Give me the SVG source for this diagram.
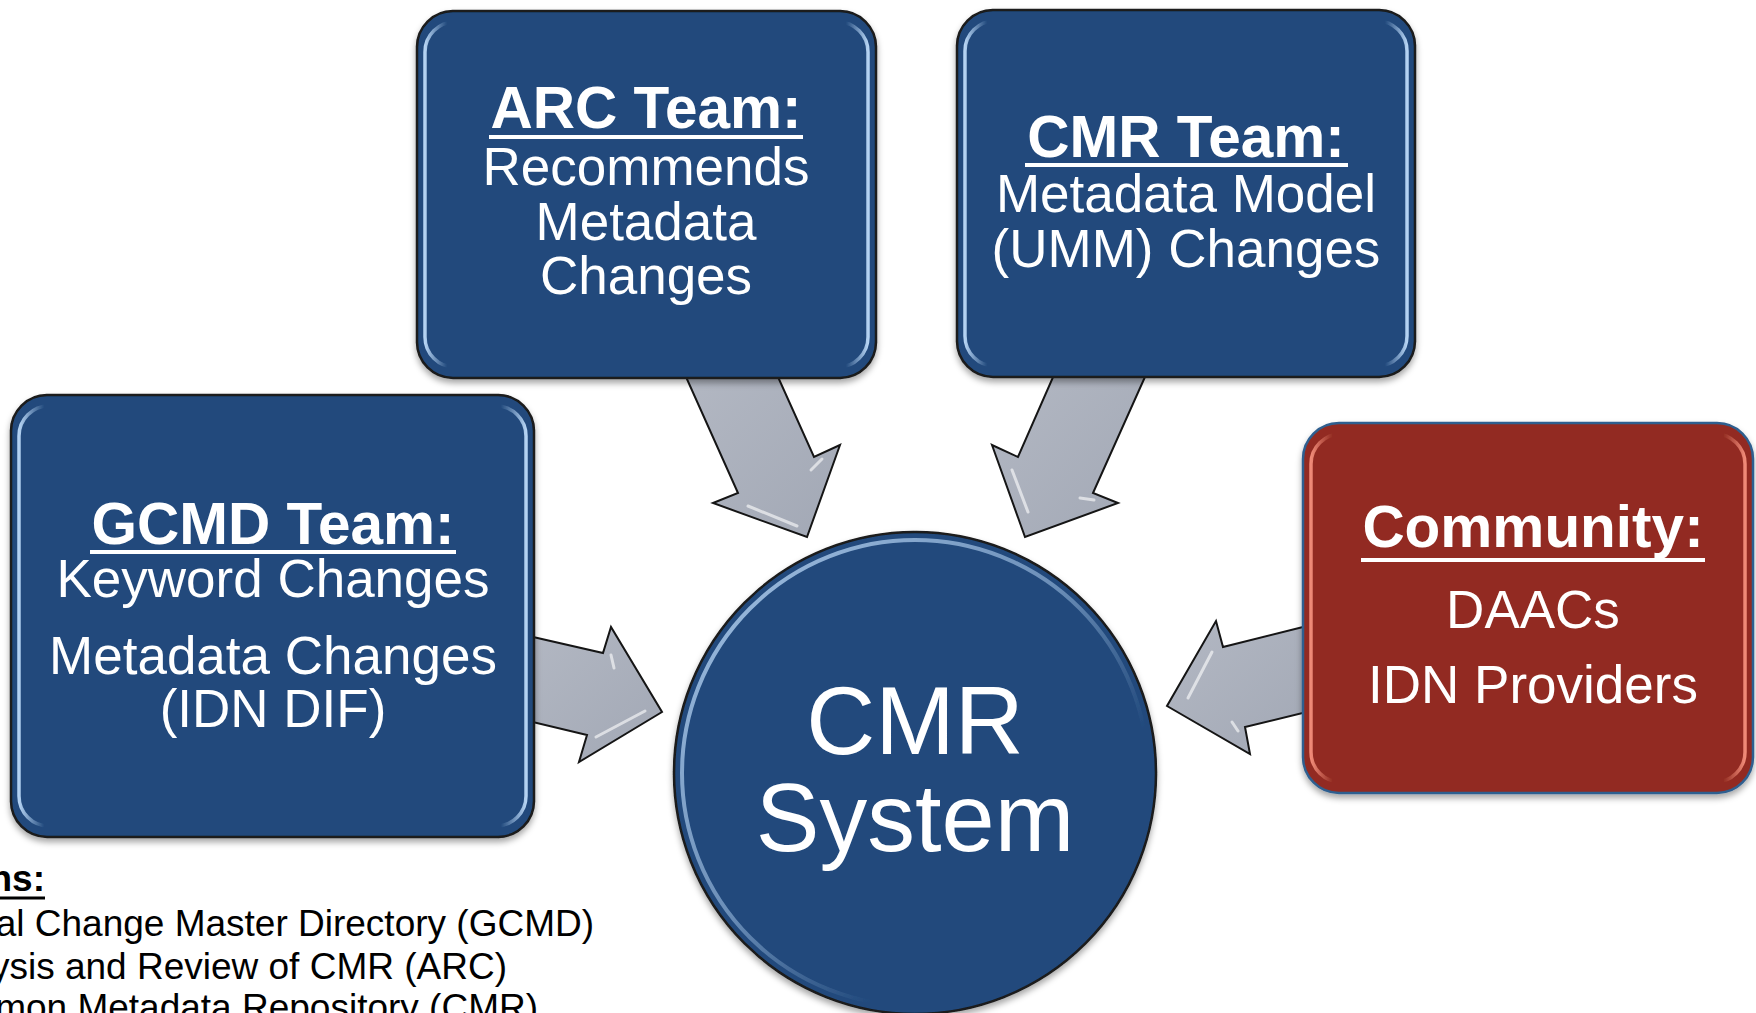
<svg xmlns="http://www.w3.org/2000/svg" width="1756" height="1013" viewBox="0 0 1756 1013">
<defs>
<filter id="shadow" x="-10%" y="-10%" width="120%" height="125%">
<feDropShadow dx="0" dy="4" stdDeviation="3" flood-color="#000" flood-opacity="0.35"/>
</filter>
<linearGradient id="hlBlue" x1="0" y1="0" x2="1" y2="0">
<stop offset="0" stop-color="#B5D3F3" stop-opacity="1"/>
<stop offset="0.05" stop-color="#B5D3F3" stop-opacity="0"/>
<stop offset="0.95" stop-color="#B5D3F3" stop-opacity="0"/>
<stop offset="1" stop-color="#B5D3F3" stop-opacity="1"/>
</linearGradient>
<linearGradient id="hlRed" x1="0" y1="0" x2="1" y2="0">
<stop offset="0" stop-color="#F08A78" stop-opacity="1"/>
<stop offset="0.05" stop-color="#F08A78" stop-opacity="0"/>
<stop offset="0.95" stop-color="#F08A78" stop-opacity="0"/>
<stop offset="1" stop-color="#F08A78" stop-opacity="1"/>
</linearGradient>
<linearGradient id="hlCircle" x1="0" y1="0" x2="1" y2="1">
<stop offset="0" stop-color="#B5D3F3" stop-opacity="0.9"/>
<stop offset="0.45" stop-color="#B5D3F3" stop-opacity="0.5"/>
<stop offset="0.7" stop-color="#B5D3F3" stop-opacity="0"/>
</linearGradient>
<linearGradient id="arrowFill" x1="0" y1="0" x2="1" y2="1">
<stop offset="0" stop-color="#B3B8C3"/>
<stop offset="1" stop-color="#A2A8B5"/>
</linearGradient>
<style>
.box{fill:#21497C;stroke:#1A1A1A;stroke-width:2.5}
.boxRed{fill:#922B21;stroke:#2F5E8F;stroke-width:2.5}
.hl{fill:none;stroke:url(#hlBlue);stroke-width:3.5}
.hlr{fill:none;stroke:url(#hlRed);stroke-width:3.5}
.arrow{fill:url(#arrowFill);stroke:#151515;stroke-width:2;stroke-linejoin:miter}
.shine{fill:none;stroke:#FFFFFF;stroke-width:3;stroke-linecap:round;opacity:0.6}
.title{font-family:"Liberation Sans",Arial,sans-serif;font-weight:bold;font-size:58.5px;fill:#FFFFFF;text-anchor:middle}
.body{font-family:"Liberation Sans",Arial,sans-serif;font-size:53px;fill:#FFFFFF;text-anchor:middle}
.big{font-family:"Liberation Sans",Arial,sans-serif;font-size:95.5px;fill:#FFFFFF;text-anchor:middle}
.ul{stroke:#FFFFFF;stroke-width:4}
.legend{font-family:"Liberation Sans",Arial,sans-serif;font-size:37px;fill:#000000;text-anchor:end}
</style>
</defs>
<rect width="1756" height="1013" fill="#FFFFFF"/>

<g id="connectors">
<g id="arrow-arc">
<polygon class="arrow" points="682,368 774,368 814,457 840,445 807,537 713,503 738,493"/>
<path class="shine" d="M811,470 L822,459"/>
<path class="shine" d="M748,506 L797,526"/>
</g>
<g id="arrow-cmrteam">
<polygon class="arrow" points="1149,368 1057,368 1018,457 992,445 1025,537 1118,503 1093,493"/>
<path class="shine" d="M1012,470 L1028,512"/>
<path class="shine" d="M1080,498 L1094,500"/>
</g>
<g id="arrow-gcmd">
<polygon class="arrow" points="520,634 603,653 611,627 662,712 579,762 587,735 520,719"/>
<path class="shine" d="M611,655 L614,668"/>
<path class="shine" d="M596,737 L645,711"/>
</g>
<g id="arrow-community">
<polygon class="arrow" points="1315,624 1223,647 1216,621 1167,706 1250,754 1245,727 1315,710"/>
<path class="shine" d="M1212,652 L1188,698"/>
<path class="shine" d="M1232,722 L1238,731"/>
</g>
</g>

<g id="node-arc" filter="url(#shadow)">
<rect class="box" x="417" y="11" width="459" height="367" rx="36"/>
<rect class="hl" x="425" y="22" width="443" height="345" rx="30"/>
<text class="title" x="646" y="128">ARC Team:</text>
<line class="ul" x1="489" y1="137" x2="803" y2="137"/>
<text class="body" x="646" y="185">Recommends</text>
<text class="body" x="646" y="240">Metadata</text>
<text class="body" x="646" y="294">Changes</text>
</g>

<g id="node-cmrteam" filter="url(#shadow)">
<rect class="box" x="957" y="10" width="458" height="367" rx="36"/>
<rect class="hl" x="965" y="21" width="442" height="345" rx="30"/>
<text class="title" x="1186" y="157">CMR Team:</text>
<line class="ul" x1="1025" y1="165" x2="1348" y2="165"/>
<text class="body" x="1186" y="212">Metadata Model</text>
<text class="body" x="1186" y="267">(UMM) Changes</text>
</g>

<g id="node-gcmd" filter="url(#shadow)">
<rect class="box" x="11" y="395" width="523" height="442" rx="36"/>
<rect class="hl" x="19" y="406" width="507" height="420" rx="30"/>
<text class="title" x="273" y="544">GCMD Team:</text>
<line class="ul" x1="90" y1="552" x2="456" y2="552"/>
<text class="body" x="273" y="597">Keyword Changes</text>
<text class="body" x="273" y="674">Metadata Changes</text>
<text class="body" x="273" y="727">(IDN DIF)</text>
</g>

<g id="node-community" filter="url(#shadow)">
<rect class="boxRed" x="1303" y="423" width="450" height="370" rx="36"/>
<rect class="hlr" x="1311" y="434" width="434" height="348" rx="30"/>
<text class="title" x="1533" y="547">Community:</text>
<line class="ul" x1="1361" y1="560" x2="1705" y2="560"/>
<text class="body" x="1533" y="628">DAACs</text>
<text class="body" x="1533" y="703">IDN Providers</text>
</g>

<g id="node-cmr" filter="url(#shadow)">
<circle cx="915" cy="773" r="241" fill="#21497C" stroke="#1A1A1A" stroke-width="2.5"/>
<circle cx="915" cy="773" r="233" fill="none" stroke="url(#hlCircle)" stroke-width="4"/>
<text class="big" x="915" y="754">CMR</text>
<text class="big" x="915" y="851">System</text>
</g>

<g id="legend">
<text class="legend" x="45" y="891" font-weight="bold">ns:</text>
<line x1="0" y1="898" x2="45" y2="898" stroke="#000" stroke-width="3"/>
<text class="legend" x="594" y="936">al Change Master Directory (GCMD)</text>
<text class="legend" x="507" y="979">ysis and Review of CMR (ARC)</text>
<text class="legend" x="538" y="1020">mon Metadata Repository (CMR)</text>
</g>
</svg>
